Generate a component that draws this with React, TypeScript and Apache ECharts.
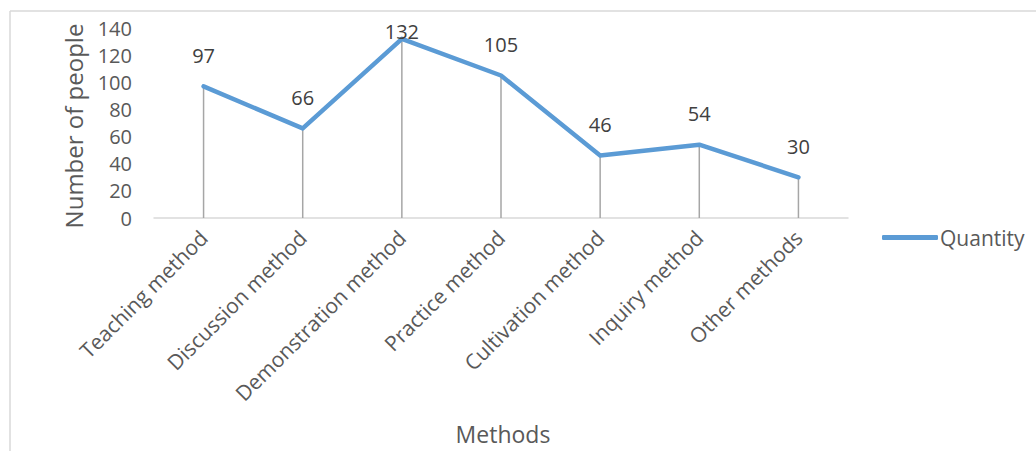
import React, { useEffect, useRef } from "react";
import * as echarts from "echarts";

const categories = [
  "Teaching method",
  "Discussion method",
  "Demonstration method",
  "Practice method",
  "Cultivation method",
  "Inquiry method",
  "Other methods",
];
const quantity = [97, 66, 132, 105, 46, 54, 30];
const yTicks = { min: 0, max: 140, interval: 20 };
const seriesName = "Quantity";
const xTitle = "Methods";
const yTitle = "Number of people";

const FONT = "'Open Sans', Lato, sans-serif";
const TEXT = "#595959";

export default function App() {
  const ref = useRef<HTMLDivElement>(null);
  useEffect(() => {
    if (!ref.current) return;
    const chart = echarts.init(ref.current, undefined, { renderer: "svg" });
    const maxV = Math.max(...quantity);
    chart.setOption({
      animation: false,
      textStyle: { fontFamily: FONT },
      grid: { left: 154, right: 1036 - 848, top: 28, bottom: 451 - 218, containLabel: false },
      legend: {
        data: [seriesName],
        left: 877,
        top: 222,
        itemWidth: 56,
        itemHeight: 5,
        itemGap: 10,
        icon: "roundRect",
        textStyle: { fontFamily: FONT, fontSize: 21, color: TEXT, padding: [0, 0, 0, -3] },
        selectedMode: false,
      },
      xAxis: {
        type: "category",
        data: categories,
        boundaryGap: true,
        axisLine: { show: true, lineStyle: { color: "#d9d9d9", width: 1.5 } },
        axisTick: { show: false },
        axisLabel: { rotate: 45, margin: 16, fontSize: 21, color: TEXT, fontFamily: FONT, interval: 0 },
        splitLine: { show: false },
      },
      yAxis: {
        type: "value",
        min: yTicks.min,
        max: yTicks.max,
        interval: yTicks.interval,
        axisLine: { show: false },
        axisTick: { show: false },
        splitLine: { show: false },
        axisLabel: { margin: 22, fontSize: 20, color: TEXT, fontFamily: FONT },
      },
      graphic: [
        { type: "line", shape: { x1: 10, y1: 11, x2: 1036, y2: 11 }, style: { stroke: "#d9d9d9", lineWidth: 1.5 } },
        { type: "line", shape: { x1: 10, y1: 11, x2: 10, y2: 451 }, style: { stroke: "#d9d9d9", lineWidth: 1.5 } },
        {
          type: "text",
          x: 73,
          y: 126,
          rotation: Math.PI / 2,
          style: { text: yTitle, fontSize: 24, fill: TEXT, fontFamily: FONT, align: "center", verticalAlign: "middle" },
        },
        {
          type: "text",
          x: 503,
          y: 434,
          style: { text: xTitle, fontSize: 23, fill: TEXT, fontFamily: FONT, align: "center", verticalAlign: "middle" },
        },
      ],
      series: [
        {
          name: "drop",
          type: "bar",
          data: quantity,
          barWidth: 1.5,
          itemStyle: { color: "#a6a6a6" },
          silent: true,
          z: 1,
        },
        {
          name: seriesName,
          type: "line",
          data: quantity.map((v) => (v === maxV ? { value: v, label: { distance: -4 } } : v)),
          showSymbol: true,
          symbol: "circle",
          symbolSize: 2,
          lineStyle: { color: "#5b9bd5", width: 4.5, join: "round", cap: "round" },
          itemStyle: { color: "#5b9bd5" },
          label: { show: true, position: "top", distance: 20, fontSize: 20, color: "#404040", fontFamily: FONT },
          z: 3,
        },
      ],
    });
    return () => chart.dispose();
  }, []);
  return <div ref={ref} style={{ position: "fixed", left: 0, top: 0, width: 1036, height: 451, background: "#fff" }} />;
}
